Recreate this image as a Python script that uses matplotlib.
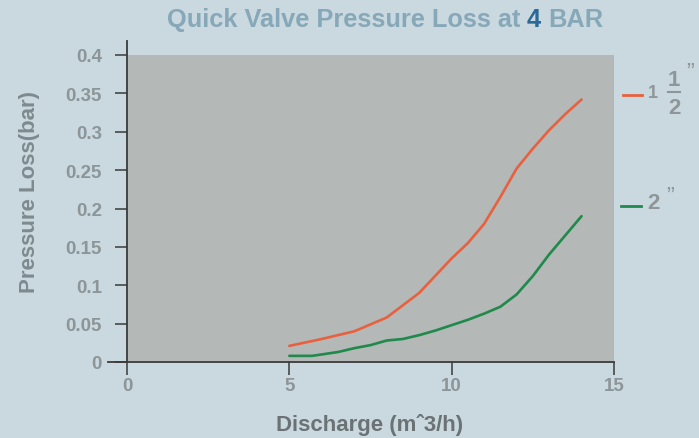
import matplotlib
matplotlib.use("Agg")
import matplotlib.pyplot as plt
from matplotlib.lines import Line2D

plt.rcParams['font.family'] = ['Liberation Sans', 'DejaVu Sans']

# 1 1/2" valve
discharge_15 = [5, 6, 7, 8, 9, 10, 10.5, 11, 11.5, 12, 12.5, 13, 13.5, 14]
loss_15 = [0.021, 0.030, 0.040, 0.058, 0.090, 0.135, 0.155, 0.180, 0.215,
           0.252, 0.278, 0.302, 0.323, 0.342]

# 2" valve
discharge_2 = [5, 5.7, 6.5, 7, 7.5, 8, 8.5, 9, 9.5, 10, 10.5, 11, 11.5, 12,
               12.5, 13, 13.5, 14]
loss_2 = [0.008, 0.008, 0.013, 0.018, 0.022, 0.028, 0.030, 0.035, 0.041,
          0.048, 0.055, 0.063, 0.072, 0.088, 0.112, 0.140, 0.165, 0.190]

x_ticks = [0, 5, 10, 15]
y_ticks = [0, 0.05, 0.1, 0.15, 0.2, 0.25, 0.3, 0.35, 0.4]
y_tick_labels = ['0', '0.05', '0.1', '0.15', '0.2', '0.25', '0.3', '0.35', '0.4']

W, H = 699, 439
bg = '#cad9df'
label_grey = '#8c9598'
axis_col = '#3a3a3a'
red = '#e8613f'
green = '#1f8a4c'


def px(x, y):
    return x / W, 1 - y / H


fig = plt.figure(figsize=(W / 100, H / 100), dpi=100, facecolor=bg)
ax = fig.add_axes([127 / W, 1 - 363 / H, 487 / W, 307 / H])
ax.set_facecolor('#b4b8b6')
ax.set_xlim(0, 15)
ax.set_ylim(0, 0.4)

ax.plot(discharge_15, loss_15, color=red, lw=1.9, solid_capstyle='round')
ax.plot(discharge_2, loss_2, color=green, lw=1.9, solid_capstyle='round')

for s in ax.spines.values():
    s.set_visible(False)
# axis lines, a bit longer than the plot area as in the original
ax.plot([0, 0], [0, 0.418], color=axis_col, lw=1.3, clip_on=False)
ax.plot([-0.6, 15], [0, 0], color=axis_col, lw=1.3, clip_on=False)

ax.set_xticks(x_ticks)
ax.set_yticks(y_ticks)
ax.set_yticklabels(y_tick_labels)
ax.tick_params(axis='both', direction='out', length=9, width=1.1,
               color=axis_col, labelcolor=label_grey, labelsize=13.5)
ax.tick_params(axis='y', pad=9)
ax.tick_params(axis='x', pad=2)
for lab in ax.get_xticklabels() + ax.get_yticklabels():
    lab.set_fontweight('bold')

fig.text(*px(30, 192), 'Pressure Loss(bar)', rotation=90, ha='center',
         va='center', fontsize=16, fontweight='bold', color='#7f8a8e')
fig.text(*px(370, 425), 'Discharge (mˆ3/h)', ha='center', va='center',
         fontsize=16, fontweight='bold', color='#6b7275')

# title with a dark "4"
fs = 18.3
title_col = '#86a8b8'
base_y = px(0, 27)[1]
t1 = fig.text(0, base_y, 'Quick Valve Pressure Loss at', fontsize=fs,
              fontweight='bold', color=title_col, va='baseline')
t2 = fig.text(0, base_y, '4', fontsize=fs, fontweight='bold',
              color='#2a6a9a', va='baseline')
t3 = fig.text(0, base_y, 'BAR', fontsize=fs, fontweight='bold',
              color=title_col, va='baseline')
r = fig.canvas.get_renderer()
w1, w2, w3 = [t.get_window_extent(r).width for t in (t1, t2, t3)]
sp = 0.278 * fs * 100 / 72
x0 = 385 - (w1 + w2 + w3 + 2 * sp) / 2
t1.set_x(x0 / W)
t2.set_x((x0 + w1 + sp) / W)
t3.set_x((x0 + w1 + w2 + 2 * sp) / W)

# legend at the right
leg_col = '#8e9699'
fig.add_artist(Line2D([623 / W, 642 / W], [px(0, 96)[1]] * 2, color=red, lw=2))
fig.text(*px(653, 94), '1', fontsize=13, fontweight='bold', color=leg_col,
         ha='center', va='center')
fig.text(*px(674, 80), '1', fontsize=16, fontweight='bold', color=leg_col,
         ha='center', va='center')
fig.add_artist(Line2D([668 / W, 680 / W], [px(0, 93)[1]] * 2, color=leg_col, lw=1.5))
fig.text(*px(674, 108), '2', fontsize=16, fontweight='bold', color=leg_col,
         ha='center', va='center')
fig.text(*px(690, 74), '”', fontsize=17, color=leg_col, ha='center', va='center')

fig.add_artist(Line2D([621 / W, 641 / W], [px(0, 207)[1]] * 2, color=green, lw=2))
fig.text(*px(653, 204), '2', fontsize=16, fontweight='bold', color=leg_col,
         ha='center', va='center')
fig.text(*px(670, 198), '”', fontsize=17, color=leg_col, ha='center', va='center')

fig.savefig('out.png', dpi=100, facecolor=bg)
